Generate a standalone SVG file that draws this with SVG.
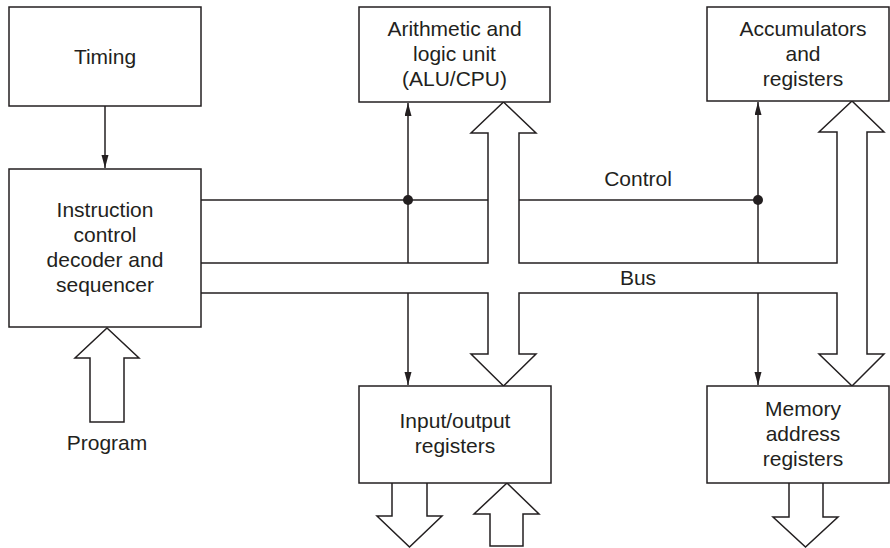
<svg xmlns="http://www.w3.org/2000/svg" width="890" height="548" viewBox="0 0 890 548">
  <defs>
    <marker id="tip" markerUnits="userSpaceOnUse" markerWidth="14" markerHeight="8" refX="13" refY="3.5" orient="auto">
      <path d="M0,0 L13,3.5 L0,7 z" fill="#231f20"/>
    </marker>
    <style>
      .box { fill: #fff; stroke: #231f20; stroke-width: 1.5; }
      .ln { fill: none; stroke: #231f20; stroke-width: 1.5; }
      .fat { fill: #fff; stroke: #231f20; stroke-width: 1.5; stroke-linejoin: miter; }
      .lbl { font-family: "Liberation Sans", Arial, sans-serif; font-size: 21px; fill: #231f20; text-anchor: middle; }
      .dot { fill: #231f20; }
    </style>
  </defs>

  <!-- connectors: control lines, bus and data arrows -->
  <g id="connectors">
    <!-- timing to sequencer -->
    <line class="ln" x1="105" y1="106" x2="105" y2="168" marker-end="url(#tip)"/>
    <!-- control line -->
    <line class="ln" x1="201" y1="200" x2="488" y2="200"/>
    <line class="ln" x1="519" y1="200" x2="758" y2="200"/>
    <!-- control taps to ALU and accumulators -->
    <line class="ln" x1="408" y1="263" x2="408" y2="103" marker-end="url(#tip)"/>
    <line class="ln" x1="758" y1="263" x2="758" y2="102" marker-end="url(#tip)"/>
    <circle class="dot" cx="408" cy="200" r="5"/>
    <circle class="dot" cx="758" cy="200" r="5"/>
    <!-- control taps to I/O and memory registers -->
    <line class="ln" x1="408" y1="293" x2="408" y2="385" marker-end="url(#tip)"/>
    <line class="ln" x1="758" y1="293" x2="758" y2="385" marker-end="url(#tip)"/>
    <!-- bus outline -->
    <path class="fat" d="M201,263 H488 V133 H471 L503.5,102 L536,133 H519 V263 H837 V132 H819 L852,101 L884,132 H867 V354 H884 L852,386 L819,354 H837 V293 H519 V354 H536 L503.5,386 L471,354 H488 V293 H201"/>
    <!-- program input -->
    <path class="fat" d="M107,328 L139,358 H124 V422 H90 V358 H75 Z"/>
    <!-- I/O out and in -->
    <path class="fat" d="M392,483 V516 H377 L409.5,547 L442,516 H427 V483"/>
    <path class="fat" d="M507,483 L539,514 H523 V546 H490 V514 H474 Z"/>
    <!-- memory address out -->
    <path class="fat" d="M789,483 V517 H773 L805.5,547 L838,517 H823 V483"/>
  </g>

  <g id="timing">
    <rect class="box" x="9" y="7" width="192" height="99"/>
    <text class="lbl" x="105" y="64">Timing</text>
  </g>

  <g id="sequencer">
    <rect class="box" x="9" y="169" width="192" height="158"/>
    <text class="lbl" x="105" y="217">Instruction</text>
    <text class="lbl" x="105" y="242">control</text>
    <text class="lbl" x="105" y="267">decoder and</text>
    <text class="lbl" x="105" y="292">sequencer</text>
  </g>

  <g id="alu">
    <rect class="box" x="359" y="7" width="191" height="95"/>
    <text class="lbl" x="454.5" y="36">Arithmetic and</text>
    <text class="lbl" x="454.5" y="61">logic unit</text>
    <text class="lbl" x="454.5" y="86">(ALU/CPU)</text>
  </g>

  <g id="accumulators">
    <rect class="box" x="707" y="7" width="182" height="94"/>
    <text class="lbl" x="803" y="36">Accumulators</text>
    <text class="lbl" x="803" y="61">and</text>
    <text class="lbl" x="803" y="86">registers</text>
  </g>

  <g id="io">
    <rect class="box" x="359" y="386" width="192" height="97"/>
    <text class="lbl" x="455" y="428">Input/output</text>
    <text class="lbl" x="455" y="453">registers</text>
  </g>

  <g id="memory">
    <rect class="box" x="707" y="386" width="182" height="97"/>
    <text class="lbl" x="803" y="416">Memory</text>
    <text class="lbl" x="803" y="441">address</text>
    <text class="lbl" x="803" y="466">registers</text>
  </g>

  <g id="labels">
    <text class="lbl" x="638" y="186">Control</text>
    <text class="lbl" x="638" y="285">Bus</text>
    <text class="lbl" x="107" y="450">Program</text>
  </g>
</svg>
